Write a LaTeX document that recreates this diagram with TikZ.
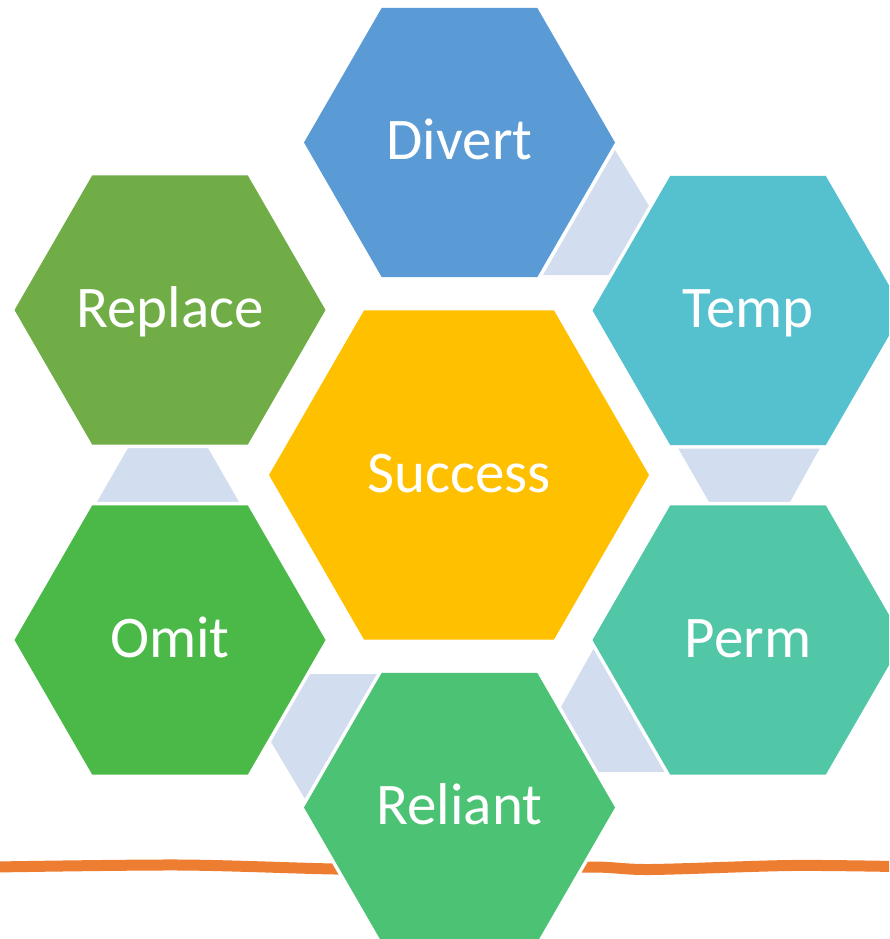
\documentclass[tikz,border=0pt]{standalone}
\usepackage{fontspec}
\setmainfont{Carlito}
\usetikzlibrary{shapes.geometric}
\definecolor{cDivert}{HTML}{5B9BD5}
\definecolor{cTemp}{HTML}{56C1CE}
\definecolor{cPerm}{HTML}{51C7A8}
\definecolor{cReliant}{HTML}{4CC274}
\definecolor{cOmit}{HTML}{4BB948}
\definecolor{cReplace}{HTML}{70AD47}
\definecolor{cSuccess}{HTML}{FFC000}
\definecolor{cBridge}{HTML}{D2DEEF}
\definecolor{cOrange}{HTML}{ED7D31}
\begin{document}
\begin{tikzpicture}[x=1pt,y=-1pt,
  hexa/.style={regular polygon, regular polygon sides=6, inner sep=0pt, outer sep=0pt,
    minimum size=311pt, text=white, font=\fontsize{59}{60}\selectfont,
    text height=34pt, text depth=0pt, preaction={draw=white, line width=7pt}},
  bigHexa/.style={hexa, minimum size=380pt},
  bridge/.style={fill=cBridge},
  waveline/.style={draw=cOrange, line width=11pt}]
\useasboundingbox (0,0) rectangle (889,939);
\clip (0,0) rectangle (889,939);
% orange wavy line (behind)
\draw[waveline] plot[smooth] coordinates {(-5,867) (180,865) (335,869) (460,870) (590,867) (650,869.5) (790,865.5) (894,866.5)};
% bridges between hexagons
\fill[bridge] (615,150) -- (649,206) -- (610,275) -- (543,275) -- cycle;
\fill[bridge] (678,448) -- (820,448) -- (790,502) -- (709,502) -- cycle;
\fill[bridge] (128,448) -- (208,448) -- (239,502) -- (97,502) -- cycle;
\fill[bridge] (308,674) -- (378,674) -- (305,799) -- (271,742) -- cycle;
\fill[bridge] (594,648) -- (665,772) -- (598,772) -- (561,707) -- cycle;
% hexagons
\node[hexa, fill=cDivert]  (divert)  at (459.5,142.5) {Divert};
\node[hexa, fill=cTemp]    (temp)    at (748,310.5)   {Temp};
\node[hexa, fill=cReplace] (replace) at (170,310)     {Replace};
\node[bigHexa, fill=cSuccess] (success) at (459,475)  {Success};
\node[hexa, fill=cOmit]    (omit)    at (170,640)     {Omit};
\node[hexa, fill=cPerm]    (perm)    at (748,640)     {Perm};
\node[hexa, fill=cReliant] (reliant) at (459.5,807.5) {Reliant};
\end{tikzpicture}
\end{document}
